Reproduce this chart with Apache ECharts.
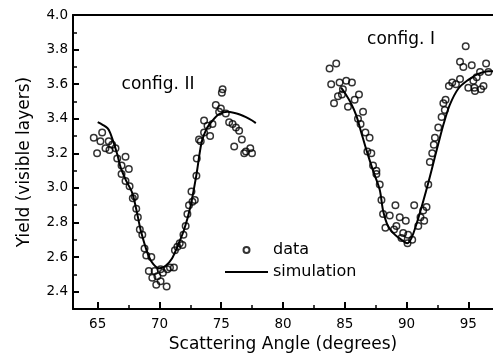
<!DOCTYPE html>
<html>
<head>
<meta charset="utf-8">
<script src="https://cdn.jsdelivr.net/npm/echarts@6/dist/echarts.min.js"></script>
<style>
  html, body { margin: 0; padding: 0; background: #fff; }
  #chart { width: 493px; height: 362px; }
</style>
</head>
<body>
<div id="chart"></div>
<script>
// measured points, config II (left dip)
var dataII = [
  [64.68,3.29],[64.95,3.20],[65.22,3.27],[65.36,3.32],[65.63,3.23],[65.89,3.27],[65.95,3.22],
  [66.17,3.25],[66.44,3.23],[66.58,3.17],[66.93,3.13],[67.25,3.18],[66.93,3.08],[67.25,3.04],
  [67.52,3.11],[67.58,3.01],[67.84,2.94],[68.00,2.95],[68.12,2.88],[68.25,2.83],[68.41,2.76],
  [68.61,2.73],[68.79,2.65],[68.93,2.61],[69.34,2.60],[69.14,2.52],[69.61,2.52],[69.42,2.48],
  [69.83,2.49],[69.74,2.44],[70.09,2.46],[70.09,2.53],[70.28,2.51],[70.58,2.43],[70.64,2.53],
  [70.85,2.54],[71.17,2.54],[71.25,2.64],[71.45,2.66],[71.64,2.68],[71.86,2.67],[71.94,2.73],
  [72.12,2.78],[72.26,2.85],[72.39,2.90],[72.67,2.92],[72.59,2.98],[72.86,2.93],[72.99,3.07],
  [73.02,3.17],[73.20,3.28],[73.34,3.27],[73.61,3.32],[74.10,3.30],[73.61,3.39],[73.89,3.36],
  [74.29,3.37],[74.56,3.48],[74.97,3.46],[74.83,3.44],[75.11,3.57],[75.05,3.55],[75.37,3.43],
  [75.64,3.38],[75.92,3.37],[76.19,3.35],[76.45,3.33],[76.67,3.28],[76.05,3.24],[77.00,3.21],
  [77.35,3.23],[77.49,3.20],[76.86,3.20]
];
// measured points, config I (right dip)
var dataI = [
  [84.31,3.72],[83.77,3.69],[83.90,3.60],[84.58,3.61],[85.12,3.62],[85.58,3.61],[84.85,3.57],
  [84.45,3.53],[84.13,3.49],[84.77,3.54],[85.26,3.47],[85.80,3.51],[86.15,3.54],[86.48,3.44],
  [86.07,3.40],[86.28,3.37],[86.67,3.32],[87.01,3.29],[86.83,3.21],[87.15,3.20],[87.29,3.13],
  [87.56,3.10],[87.56,3.08],[87.83,3.02],[87.97,2.93],[88.10,2.85],[88.64,2.84],[88.29,2.77],
  [89.10,2.90],[89.45,2.83],[89.94,2.81],[89.18,2.78],[88.99,2.76],[89.73,2.74],[89.59,2.71],
  [90.13,2.73],[90.08,2.68],[90.46,2.70],[90.62,2.90],[90.95,2.78],[91.13,2.83],[91.35,2.87],
  [91.62,2.89],[91.76,3.02],[91.43,2.81],[91.89,3.15],[92.08,3.20],[92.21,3.25],[92.30,3.29],
  [92.57,3.35],[92.84,3.41],[93.10,3.45],[92.98,3.49],[93.16,3.51],[93.43,3.59],[93.70,3.61],
  [94.00,3.60],[94.33,3.63],[94.33,3.73],[94.60,3.70],[94.79,3.82],[95.28,3.71],[96.44,3.72],
  [96.63,3.67],[95.95,3.67],[95.68,3.64],[95.41,3.62],[96.23,3.59],[96.03,3.57],[95.49,3.58],
  [95.00,3.58],[95.54,3.56]
];
// simulation curves
var simII = [
  [65.0,3.38],[65.4,3.365],[65.8,3.345],[66.0,3.32],[66.3,3.26],[66.6,3.19],[66.85,3.12],
  [67.25,3.05],[67.8,2.97],[68.2,2.85],[68.5,2.75],[69.1,2.61],[69.5,2.56],[70.0,2.535],
  [70.5,2.55],[71.0,2.59],[71.5,2.67],[72.0,2.76],[72.5,2.89],[73.0,3.08],[73.4,3.26],
  [73.8,3.34],[74.3,3.39],[74.8,3.425],[75.5,3.44],[76.0,3.435],[76.5,3.425],[77.0,3.41],
  [77.5,3.39],[77.8,3.375]
];
var simI = [
  [84.7,3.58],[85.0,3.55],[85.5,3.49],[85.93,3.42],[86.34,3.32],[86.75,3.22],[87.29,3.10],
  [87.83,2.99],[88.1,2.87],[88.5,2.78],[89.05,2.73],[89.6,2.70],[90.05,2.68],[90.4,2.71],
  [90.8,2.79],[91.3,2.91],[91.8,3.04],[92.3,3.18],[92.7,3.29],[93.0,3.37],[93.5,3.48],
  [94.2,3.575],[95.0,3.625],[95.8,3.66],[96.6,3.675],[97.0,3.675]
];
var xMajor = [65, 70, 75, 80, 85, 90, 95];
var xMinor = [67.5, 72.5, 77.5, 82.5, 87.5, 92.5];
var yMajor = [2.4, 2.6, 2.8, 3.0, 3.2, 3.4, 3.6, 3.8, 4.0];
var yMinor = [2.5, 2.7, 2.9, 3.1, 3.3, 3.5, 3.7, 3.9];

var font = 'DejaVu Sans';
var black = '#000';

var chart = echarts.init(document.getElementById('chart'));

function hiddenAxis(pos, extra) {
  var a = {
    type: 'value', position: pos,
    axisLine: { show: false, onZero: false },
    axisTick: { show: false },
    axisLabel: { show: false },
    splitLine: { show: false }
  };
  for (var k in extra) a[k] = extra[k];
  return a;
}

var option = {
  animation: false,
  backgroundColor: '#fff',
  grid: { left: 73, top: 15, right: 0, bottom: 53 },
  xAxis: [
    {
      type: 'value', min: 63, max: 97, position: 'bottom',
      name: 'Scattering Angle (degrees)',
      nameLocation: 'middle', nameGap: 26,
      nameTextStyle: { fontFamily: font, fontSize: 17, color: black },
      axisLine: { onZero: false, lineStyle: { color: black, width: 2 } },
      axisTick: { inside: true, length: 7, customValues: xMajor, lineStyle: { color: black, width: 2 } },
      axisLabel: { customValues: xMajor, margin: 8, fontFamily: font, fontSize: 13.5, color: black },
      splitLine: { show: false }
    },
    hiddenAxis('bottom', {
      min: 63, max: 97,
      axisTick: { show: true, inside: true, length: 4, customValues: xMinor, lineStyle: { color: black, width: 1.5 } }
    }),
    hiddenAxis('top', {
      min: 63, max: 97,
      axisLine: { show: true, onZero: false, lineStyle: { color: black, width: 2 } }
    })
  ],
  yAxis: [
    {
      type: 'value', min: 2.3, max: 4.0,
      name: 'Yield (visible layers)',
      nameLocation: 'middle', nameGap: 40,
      nameTextStyle: { fontFamily: font, fontSize: 17, color: black },
      axisLine: { show: true, onZero: false, lineStyle: { color: black, width: 2 } },
      axisTick: { show: true, inside: true, length: 6, customValues: yMajor, lineStyle: { color: black, width: 2 } },
      axisLabel: {
        customValues: yMajor, margin: 5, fontFamily: font, fontSize: 13.5, color: black,
        formatter: function (v) { return v.toFixed(1); }
      },
      splitLine: { show: false }
    },
    hiddenAxis('left', {
      min: 2.3, max: 4.0,
      axisTick: { show: true, inside: true, length: 4, customValues: yMinor, lineStyle: { color: black, width: 1.5 } }
    })
  ],
  legend: {
    orient: 'vertical', left: 220, top: 237,
    itemWidth: 43, itemHeight: 6, itemGap: 6,
    textStyle: { fontFamily: font, fontSize: 16, color: black },
    data: [
      { name: 'data' },
      { name: 'simulation', icon: 'path://M0,0L43,0L43,2L0,2Z' }
    ]
  },
  graphic: [
    { type: 'text', x: 158, y: 85, style: { text: 'config. II', font: '17px "DejaVu Sans"', fill: black, align: 'center', verticalAlign: 'middle' } },
    { type: 'text', x: 401, y: 40, style: { text: 'config. I', font: '17px "DejaVu Sans"', fill: black, align: 'center', verticalAlign: 'middle' } }
  ],
  series: [
    {
      name: 'simulation', type: 'line', data: simII, smooth: 0.3,
      symbol: 'none', lineStyle: { color: black, width: 2 }, itemStyle: { color: black }
    },
    {
      name: 'simulation', type: 'line', data: simI, smooth: 0.3,
      symbol: 'none', lineStyle: { color: black, width: 2 }, itemStyle: { color: black }
    },
    {
      name: 'data', type: 'scatter', data: dataII.concat(dataI),
      symbol: 'circle', symbolSize: 6.5,
      itemStyle: { color: 'transparent', borderColor: black, borderWidth: 1.5 }
    }
  ]
};
chart.setOption(option);
</script>
</body>
</html>
